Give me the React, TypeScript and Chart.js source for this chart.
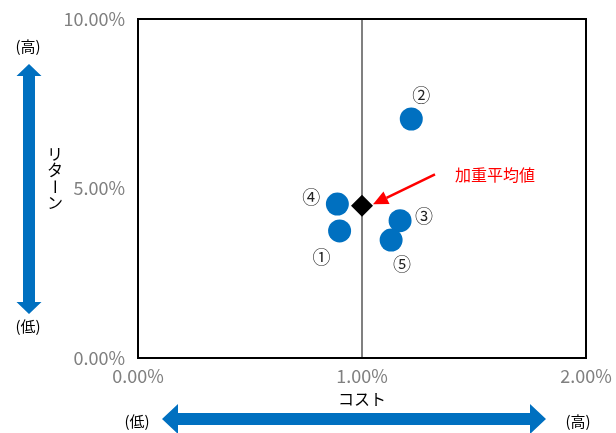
import React, { useEffect, useRef } from "react";
import { Chart, registerables } from "chart.js";

Chart.register(...registerables);

// ---- data ----
const fundLabels = ["①", "②", "③", "④", "⑤"];
const costValues = [0.9, 1.22, 1.17, 0.89, 1.13]; // %
const returnValues = [3.75, 7.05, 4.05, 4.54, 3.48]; // %
const avgLabel = "加重平均値";
const avgCost = [1.0];
const avgReturn = [4.49];
const xTickValues = [0, 1, 2];
const yTickValues = [0, 5, 10];
const xTitle = "コスト";
const yTitle = "リターン";
const highText = "(高)";
const lowText = "(低)";

// ---- styles (label offsets in px) ----
const labelOffsets = [
  [-18, 26],
  [10, -24],
  [24, -5],
  [-26, -7],
  [11, 24],
];
const BLUE = "#0070C0";
const JP = '"Noto Sans CJK JP", "Noto Sans", sans-serif';

const annotPlugin = {
  id: "annot",
  beforeDatasetsDraw(chart: any) {
    const { ctx, chartArea: a } = chart;
    ctx.save();
    ctx.strokeStyle = "#000";
    ctx.lineWidth = 2;
    ctx.strokeRect(a.left, a.top, a.right - a.left, a.bottom - a.top);
    ctx.restore();
  },
  afterDraw(chart: any) {
    const { ctx, chartArea: a, scales } = chart;
    const xs = scales.x;
    const ys = scales.y;
    ctx.save();
    // point labels
    ctx.font = `18px ${JP}`;
    ctx.fillStyle = "#222";
    ctx.textAlign = "center";
    ctx.textBaseline = "middle";
    fundLabels.forEach((lab, i) => {
      const px = xs.getPixelForValue(costValues[i]) + labelOffsets[i][0];
      const py = ys.getPixelForValue(returnValues[i]) + labelOffsets[i][1];
      ctx.fillText(lab, px, py);
    });
    // red arrow to weighted average
    const dx = xs.getPixelForValue(avgCost[0]);
    const dy = ys.getPixelForValue(avgReturn[0]);
    const tipX = dx + 11;
    const tipY = dy - 1.5;
    const sx = tipX + 62;
    const sy = tipY - 30;
    const ang = Math.atan2(tipY - sy, tipX - sx);
    ctx.strokeStyle = "#FF0000";
    ctx.fillStyle = "#FF0000";
    ctx.lineWidth = 2.5;
    const hl = 15;
    const hw = 7;
    const bx = tipX - hl * Math.cos(ang);
    const by = tipY - hl * Math.sin(ang);
    ctx.beginPath();
    ctx.moveTo(sx, sy);
    ctx.lineTo(bx, by);
    ctx.stroke();
    ctx.beginPath();
    ctx.moveTo(tipX, tipY);
    ctx.lineTo(bx + hw * Math.sin(ang), by - hw * Math.cos(ang));
    ctx.lineTo(bx - hw * Math.sin(ang), by + hw * Math.cos(ang));
    ctx.closePath();
    ctx.fill();
    ctx.font = `16px ${JP}`;
    ctx.textAlign = "left";
    ctx.fillText(avgLabel, sx + 20, sy + 1);

    // axis titles
    ctx.fillStyle = "#000";
    ctx.textAlign = "center";
    ctx.font = `16px ${JP}`;
    ctx.fillText(xTitle, (a.left + a.right) / 2, a.bottom + 41);
    const chars = Array.from(yTitle);
    const cy = (a.top + a.bottom) / 2 - 10;
    const step = 16.5;
    chars.forEach((c, i) => {
      const y = cy + (i - (chars.length - 1) / 2) * step;
      if (c === "ー") {
        ctx.save();
        ctx.translate(55, y);
        ctx.rotate(Math.PI / 2);
        ctx.fillText(c, 0, 0);
        ctx.restore();
      } else {
        ctx.fillText(c, 55, y);
      }
    });

    // blue arrows
    ctx.fillStyle = BLUE;
    const vx = 29;
    const vt = 64;
    const vb = 314;
    ctx.beginPath();
    ctx.moveTo(vx, vt);
    ctx.lineTo(vx + 12.5, vt + 12);
    ctx.lineTo(vx + 6, vt + 12);
    ctx.lineTo(vx + 6, vb - 12);
    ctx.lineTo(vx + 12.5, vb - 12);
    ctx.lineTo(vx, vb);
    ctx.lineTo(vx - 12.5, vb - 12);
    ctx.lineTo(vx - 6, vb - 12);
    ctx.lineTo(vx - 6, vt + 12);
    ctx.lineTo(vx - 12.5, vt + 12);
    ctx.closePath();
    ctx.fill();
    const hy = 419;
    const hlx = 162;
    const hrx = 546;
    ctx.beginPath();
    ctx.moveTo(hlx, hy);
    ctx.lineTo(hlx + 16, hy - 15);
    ctx.lineTo(hlx + 16, hy - 6);
    ctx.lineTo(hrx - 16, hy - 6);
    ctx.lineTo(hrx - 16, hy - 15);
    ctx.lineTo(hrx, hy);
    ctx.lineTo(hrx - 16, hy + 15);
    ctx.lineTo(hrx - 16, hy + 6);
    ctx.lineTo(hlx + 16, hy + 6);
    ctx.lineTo(hlx + 16, hy + 15);
    ctx.closePath();
    ctx.fill();

    // high / low labels
    ctx.fillStyle = "#000";
    ctx.font = `15px ${JP}`;
    ctx.textAlign = "center";
    ctx.fillText(highText, 28, 46);
    ctx.fillText(lowText, 28, 326);
    ctx.fillText(lowText, 137, 421);
    ctx.fillText(highText, 578, 421);
    ctx.restore();
  },
};

export default function App() {
  const ref = useRef<HTMLCanvasElement>(null);
  useEffect(() => {
    document.body.style.margin = "0";
    const chart = new Chart(ref.current!, {
      type: "scatter",
      data: {
        datasets: [
          {
            label: "funds",
            data: costValues.map((x, i) => ({ x, y: returnValues[i] })),
            backgroundColor: BLUE,
            borderWidth: 0,
            pointRadius: 11.5,
          },
          {
            label: avgLabel,
            data: avgCost.map((x, i) => ({ x, y: avgReturn[i] })),
            backgroundColor: "#000",
            borderWidth: 0,
            pointStyle: "rectRot",
            pointRadius: 11,
          },
        ],
      },
      options: {
        responsive: false,
        animation: false,
        layout: { padding: { left: 0, right: 30, top: 19, bottom: 0 } },
        plugins: { legend: { display: false }, tooltip: { enabled: false } },
        scales: {
          x: {
            type: "linear",
            min: 0,
            max: 2,
            afterBuildTicks: (s: any) => {
              s.ticks = xTickValues.map((v) => ({ value: v }));
            },
            afterFit: (s: any) => {
              s.height = 75;
              s.paddingLeft = 0;
              s.paddingRight = 0;
            },
            ticks: {
              padding: 7,
              color: "#808080",
              font: { family: JP, size: 18 },
              callback: (v: any) => Number(v).toFixed(2) + "%",
              maxRotation: 0,
            },
            grid: {
              drawTicks: false,
              lineWidth: 2,
              color: (c: any) => (c.tick && c.tick.value === 1 ? "#808080" : "rgba(0,0,0,0)"),
            },
            border: { display: false },
          },
          y: {
            type: "linear",
            min: 0,
            max: 10,
            afterBuildTicks: (s: any) => {
              s.ticks = yTickValues.map((v) => ({ value: v }));
            },
            afterFit: (s: any) => {
              s.width = 138;
              s.paddingTop = 0;
              s.paddingBottom = 0;
            },
            ticks: {
              padding: 13,
              color: "#808080",
              font: { family: JP, size: 18 },
              callback: (v: any) => Number(v).toFixed(2) + "%",
            },
            grid: { display: false, drawTicks: false },
            border: { display: false },
          },
        },
      },
      plugins: [annotPlugin],
    });
    return () => chart.destroy();
  }, []);
  return <canvas ref={ref} width={616} height={433} style={{ display: "block" }} />;
}
